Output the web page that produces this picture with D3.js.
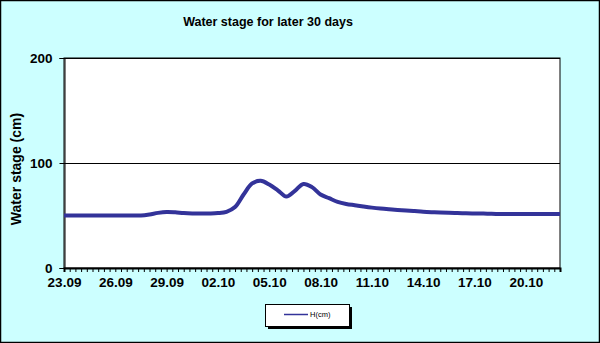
<!DOCTYPE html>
<html>
<head>
<meta charset="utf-8">
<script src="https://cdn.jsdelivr.net/npm/d3@7/dist/d3.min.js"></script>
<style>
  html, body { margin: 0; padding: 0; background: #CCFFFF; }
  svg { display: block; }
  text { font-family: "Liberation Sans", Arial, sans-serif; }
</style>
</head>
<body>
<svg id="chart" width="600" height="343"></svg>
<script>
// ---- data ----
const chartTitle = "Water stage for later 30 days";
const yTitle = "Water stage (cm)";
const seriesName = "H(cm)";
const xTickLabels = ["23.09","26.09","29.09","02.10","05.10","08.10","11.10","14.10","17.10","20.10"];
const yTickValues = [0, 100, 200];
// water stage (cm), sampled every half day starting 23.09 00:00
const stageValues = [
  50, 50, 50, 50, 50, 50, 50, 50, 50, 50,
  51, 52.5, 53.3, 53, 52.3, 52, 52, 52, 52.3, 53.5,
  58, 70, 80.5, 83, 79.5, 74, 68, 73.5, 80, 77,
  70, 66.5, 63, 61, 59.8, 58.6, 57.5, 56.6, 55.9, 55.3,
  54.8, 54.2, 53.6, 53.2, 52.9, 52.6, 52.3, 52.1, 51.9, 51.8,
  51.6, 51.5, 51.4, 51.4, 51.4, 51.4, 51.4, 51.4, 51.4
];
const totalDays = 29;

// ---- layout ----
const svg = d3.select("#chart");
const W = 600, H = 343;
const plot = { left: 64, right: 560, top: 58, bottom: 268 };

svg.append("rect").attr("x", 0.5).attr("y", 0.5).attr("width", W - 1).attr("height", H - 1)
  .attr("fill", "#CCFFFF").attr("stroke", "#000").attr("stroke-width", 1.5);

const x = d3.scaleLinear().domain([0, totalDays]).range([plot.left, plot.right]);
const y = d3.scaleLinear().domain([0, 200]).range([plot.bottom, plot.top]);

// plot area
svg.append("rect").attr("x", plot.left).attr("y", plot.top)
  .attr("width", plot.right - plot.left).attr("height", plot.bottom - plot.top)
  .attr("fill", "#fff").attr("stroke", "#000").attr("stroke-width", 1);

// gridlines
svg.append("g").selectAll("line").data(yTickValues.filter(v => v > 0)).join("line")
  .attr("x1", plot.left).attr("x2", plot.right)
  .attr("y1", d => Math.round(y(d)) + 0.5).attr("y2", d => Math.round(y(d)) + 0.5)
  .attr("stroke", "#000").attr("stroke-width", 1);

// title
svg.append("text").attr("x", 268).attr("y", 26).attr("text-anchor", "middle")
  .attr("font-size", 12.5).attr("font-weight", "bold").attr("fill", "#000").text(chartTitle);

// y axis
const yAxis = d3.axisLeft(y).tickValues(yTickValues).tickSize(5).tickPadding(7).tickFormat(d3.format("d"));
const gy = svg.append("g").attr("transform", `translate(${plot.left + 0.5},0)`).call(yAxis);
gy.select(".domain").attr("stroke", "#000").attr("stroke-width", 1);
gy.selectAll(".tick line").attr("stroke", "#000");
gy.selectAll(".tick text").attr("font-size", 13.5).attr("font-weight", "bold").attr("fill", "#000")
  .attr("font-family", "Liberation Sans, Arial, sans-serif");

// y title
svg.append("text").attr("transform", `translate(21,169) rotate(-90)`).attr("text-anchor", "middle")
  .attr("font-size", 14).attr("font-weight", "bold").attr("fill", "#000").text(yTitle);

// x axis: tick every 8 hours, label every 3 days
const xTicks = d3.range(0, totalDays * 3 + 1).map(i => i / 3);
const xAxis = d3.axisBottom(x).tickValues(xTicks).tickSize(4).tickPadding(5)
  .tickFormat((d, i) => (i % 9 === 0 && xTickLabels[i / 9] !== undefined) ? xTickLabels[i / 9] : "");
const gx = svg.append("g").attr("transform", `translate(0,${plot.bottom})`).call(xAxis);
gx.select(".domain").attr("stroke", "#000").attr("stroke-width", 2);
gx.selectAll(".tick line").attr("stroke", "#000");
gx.selectAll(".tick text").attr("font-size", 13.5).attr("font-weight", "bold").attr("fill", "#000")
  .attr("font-family", "Liberation Sans, Arial, sans-serif");

// series line
const pts = stageValues.map((v, i) => [i * 0.5, v]);
const line = d3.line().x(d => x(d[0])).y(d => y(d[1])).curve(d3.curveCatmullRom.alpha(0.5));
svg.append("path").datum(pts).attr("d", line)
  .attr("fill", "none").attr("stroke", "#333399").attr("stroke-width", 4)
  .attr("stroke-linejoin", "round").attr("stroke-linecap", "butt");

// legend
const lg = { x: 265, y: 304, w: 84, h: 22 };
svg.append("rect").attr("x", lg.x + 3).attr("y", lg.y + 3).attr("width", lg.w).attr("height", lg.h).attr("fill", "#000");
svg.append("rect").attr("x", lg.x + 0.5).attr("y", lg.y + 0.5).attr("width", lg.w).attr("height", lg.h)
  .attr("fill", "#fff").attr("stroke", "#000").attr("stroke-width", 1);
svg.append("line").attr("x1", 284).attr("x2", 308).attr("y1", 314.5).attr("y2", 314.5)
  .attr("stroke", "#333399").attr("stroke-width", 1.5);
svg.append("text").attr("x", 310).attr("y", 317).attr("font-size", 7.5).attr("fill", "#000").text(seriesName);
</script>
</body>
</html>
